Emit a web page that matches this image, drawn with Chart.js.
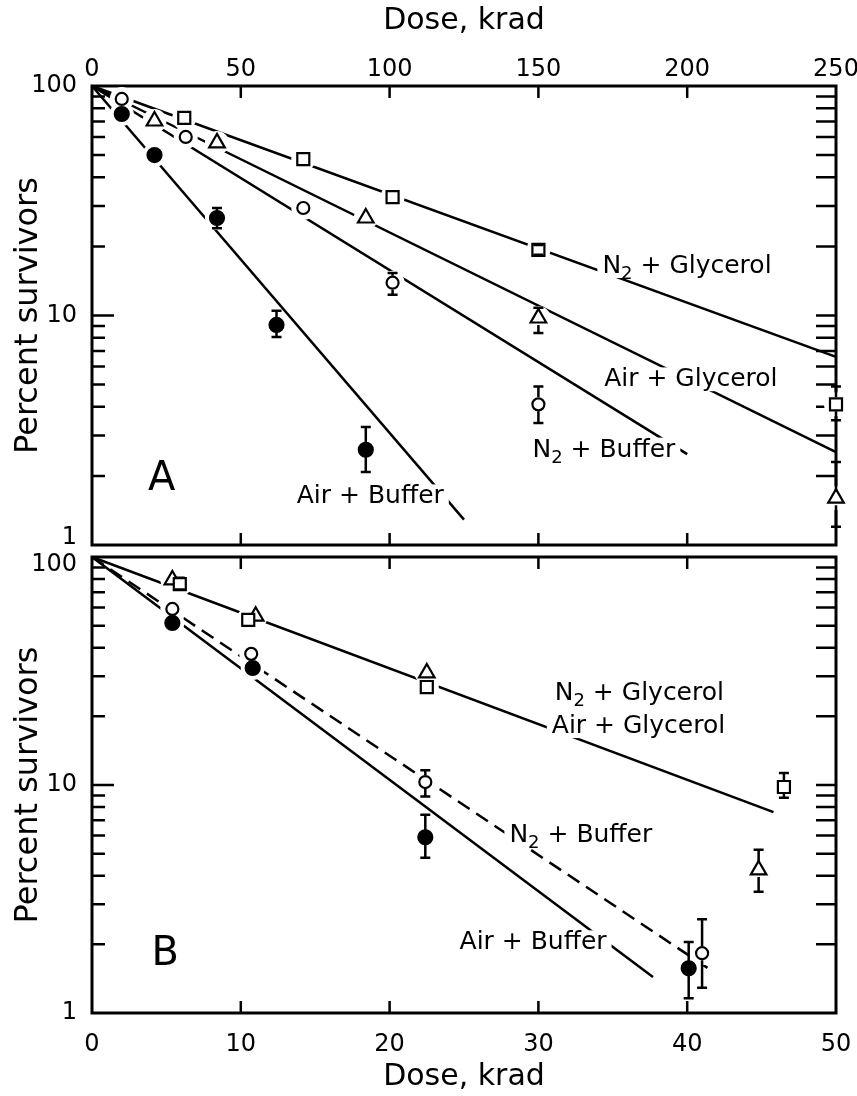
<!DOCTYPE html>
<html>
<head>
<meta charset="utf-8">
<script src="https://cdn.jsdelivr.net/npm/chart.js@4.4.1/dist/chart.umd.min.js"></script>
<style>
  body { margin: 0; background: #fff; }
  #wrap { position: relative; width: 857px; height: 1096px; overflow: hidden; background: #fff; }
  canvas { position: absolute; left: 0; }
</style>
</head>
<body>
<div id="wrap">
  <canvas id="chartA" width="890" height="600" style="top:0"></canvas>
  <canvas id="chartB" width="890" height="596" style="top:500px"></canvas>
</div>
<script>
const FONT = 'DejaVu Sans';

// ---- panel A: dose 0-250 krad ----
// squares, N2 + glycerol
const aSqDose = [31, 71, 101, 150, 250];
const aSqSurv = [72.6, 48, 32.8, 19.3, 4.1];
const aSqLow  = [null, null, null, 18.4, 3.5];
const aSqHigh = [null, null, null, 20.3, 4.9];
// triangles, air + glycerol
const aTriDose = [21, 42, 92, 150, 250];
const aTriSurv = [70.4, 56.5, 26.6, 9.75, 1.6];
const aTriLow  = [null, null, null, 8.4, 1.2];
const aTriHigh = [null, null, null, 10.8, 2.3];
// open circles, N2 + buffer
const aOpenDose = [10, 31.5, 71, 101, 150];
const aOpenSurv = [87.8, 60, 29.4, 13.9, 4.1];
const aOpenLow  = [null, null, null, 12.3, 3.4];
const aOpenHigh = [null, null, null, 15.3, 4.9];
// filled circles, air + buffer
const aFillDose = [10, 21, 42, 62, 92];
const aFillSurv = [75.5, 50, 26.6, 9.1, 2.6];
const aFillLow  = [null, null, 24, 8.05, 2.08];
const aFillHigh = [null, null, 29.4, 10.5, 3.27];
// fitted lines from (0, 100): N2+Gly, Air+Gly, N2+Buf, Air+Buf
const aFitEndDose = [250, 250, 200, 125];
const aFitEndSurv = [6.6, 2.54, 2.49, 1.29];

// ---- panel B: dose 0-50 krad ----
const bSqDose = [5.9, 10.5, 22.5, 46.5];
const bSqSurv = [76, 53, 26.9, 9.8];
const bSqLow  = [72, null, null, 8.8];
const bSqHigh = [81, null, null, 11.3];

const bTriDose = [5.4, 11, 22.5, 44.8];
const bTriSurv = [79.3, 55, 31, 4.24];
const bTriLow  = [null, null, null, 3.4];
const bTriHigh = [null, null, null, 5.2];

const bOpenDose = [5.4, 10.7, 22.4, 41];
const bOpenSurv = [59.2, 37.6, 10.3, 1.83];
const bOpenLow  = [null, null, 8.9, 1.29];
const bOpenHigh = [null, null, 11.6, 2.58];

const bFillDose = [5.4, 10.8, 22.4, 40.1];
const bFillSurv = [51.4, 32.6, 5.9, 1.57];
const bFillLow  = [null, null, 4.8, 1.16];
const bFillHigh = [null, null, 7.4, 2.05];
// fitted lines: glycerol (both), N2+Buf (dashed), Air+Buf
const bFitEndDose = [45.8, 41.8, 37.7];
const bFitEndSurv = [7.6, 1.51, 1.44];

// axis ticks
const yLabelTicks = [1, 10, 100];
const yMinorTicks = [2, 3, 4, 5, 6, 7, 8, 9, 20, 30, 40, 50, 60, 70, 80, 90];

// curve labels (anchored in data units, text starts at dose)
const aLabelText = ['N₂ + Glycerol', 'Air + Glycerol', 'N₂ + Buffer', 'Air + Buffer'];
const aLabelDose = [171.5, 172.1, 148, 68.8];
const aLabelSurv = [16.3, 5.24, 2.59, 1.62];
const bLabelText = ['N₂ + Glycerol', 'Air + Glycerol', 'N₂ + Buffer', 'Air + Buffer'];
const bLabelDose = [31.1, 30.9, 28.05, 24.7];
const bLabelSurv = [25.3, 18.0, 6.0, 2.03];

function pts(dose, surv) {
  return dose.map((d, i) => ({ x: d, y: surv[i] }));
}

function markerSet(dose, surv, style, radius, fill) {
  return {
    data: pts(dose, surv), showLine: false, clip: false, order: 1,
    pointStyle: style, pointRadius: radius, pointBackgroundColor: fill,
    pointBorderColor: '#000', pointBorderWidth: 2.2
  };
}

// white disc behind each marker so the lines break around it
function haloSet(dose, surv) {
  return {
    data: pts(dose, surv), showLine: false, clip: false, order: 5,
    pointStyle: 'circle', pointRadius: 12, pointBackgroundColor: '#fff', pointBorderWidth: 0
  };
}

function fitSet(endDose, endSurv, dash) {
  return {
    data: [{ x: 0, y: 100 }, { x: endDose, y: endSurv }],
    showLine: true, clip: false, order: 10, pointRadius: 0,
    borderColor: '#000', borderWidth: 2.5, borderDash: dash || []
  };
}

function drawLabel(ctx, text, px, py, size) {
  const segs = [];
  text.split('₂').forEach((p, i) => {
    if (i > 0) segs.push({ t: '2', sub: true });
    if (p) segs.push({ t: p, sub: false });
  });
  const main = size + 'px "' + FONT + '"';
  const small = Math.round(size * 0.72) + 'px "' + FONT + '"';
  let w = 0;
  segs.forEach(s => { ctx.font = s.sub ? small : main; s.w = ctx.measureText(s.t).width; w += s.w; });
  ctx.fillStyle = '#fff';
  ctx.fillRect(px - 5, py - size * 0.5, w + 10, size * 0.95);
  ctx.fillStyle = '#000';
  ctx.textBaseline = 'middle';
  ctx.textAlign = 'left';
  let cx = px;
  segs.forEach(s => {
    ctx.font = s.sub ? small : main;
    ctx.fillText(s.t, cx, s.sub ? py + size * 0.32 : py);
    cx += s.w;
  });
}

const panelDecor = {
  id: 'panelDecor',
  beforeDatasetsDraw(chart) {
    const { ctx, chartArea: ca, scales: { x: xs, y: ys } } = chart;
    ctx.save();
    ctx.strokeStyle = '#000';
    ctx.lineWidth = 2.5;
    ctx.beginPath();
    yMinorTicks.concat([10]).forEach(v => {
      const py = ys.getPixelForValue(v);
      ctx.moveTo(ca.left, py); ctx.lineTo(ca.left + (v === 10 ? 22 : 13), py);
      ctx.moveTo(ca.right, py); ctx.lineTo(ca.right - 20, py);
    });
    xs.ticks.forEach(t => {
      if (t.value <= xs.min || t.value >= xs.max) return;
      const px = xs.getPixelForValue(t.value);
      ctx.moveTo(px, ca.top); ctx.lineTo(px, ca.top + 12);
      ctx.moveTo(px, ca.bottom); ctx.lineTo(px, ca.bottom - 12);
    });
    ctx.stroke();
    ctx.lineWidth = 3;
    ctx.strokeRect(ca.left, ca.top, ca.right - ca.left, ca.bottom - ca.top);
    ctx.restore();
  },
  afterDatasetsDraw(chart, args, opts) {
    const { ctx, scales: { x: xs, y: ys } } = chart;
    ctx.save();
    ctx.strokeStyle = '#000';
    ctx.lineWidth = 2.5;
    opts.errorBars.forEach(e => {
      e.dose.forEach((d, i) => {
        if (e.low[i] == null) return;
        const px = xs.getPixelForValue(d);
        const pm = ys.getPixelForValue(e.surv[i]);
        const pl = ys.getPixelForValue(e.low[i]);
        const ph = ys.getPixelForValue(e.high[i]);
        ctx.beginPath();
        if (ph < pm - e.gap) { ctx.moveTo(px, ph); ctx.lineTo(px, pm - e.gap); }
        if (pl > pm + e.gap) { ctx.moveTo(px, pm + e.gap); ctx.lineTo(px, pl); }
        ctx.moveTo(px - 5, ph); ctx.lineTo(px + 5, ph);
        ctx.moveTo(px - 5, pl); ctx.lineTo(px + 5, pl);
        ctx.stroke();
      });
    });
    opts.labelText.forEach((t, i) => {
      drawLabel(ctx, t, xs.getPixelForValue(opts.labelDose[i]), ys.getPixelForValue(opts.labelSurv[i]), 25);
    });
    ctx.fillStyle = '#000';
    ctx.font = '40px "' + FONT + '"';
    ctx.textAlign = 'left';
    ctx.textBaseline = 'middle';
    ctx.fillText(opts.letter, xs.getPixelForValue(opts.letterAt[0]), ys.getPixelForValue(opts.letterAt[1]));
    ctx.restore();
  }
};

function panelDatasets(sq, tri, open, fill, fits) {
  return [
    ...fits,
    haloSet(sq[0], sq[1]), haloSet(tri[0], tri[1]), haloSet(open[0], open[1]), haloSet(fill[0], fill[1]),
    markerSet(sq[0], sq[1], 'rect', 8.5, '#fff'),
    markerSet(tri[0], tri[1], 'triangle', 9, '#fff'),
    markerSet(open[0], open[1], 'circle', 6, '#fff'),
    markerSet(fill[0], fill[1], 'circle', 7, '#000')
  ];
}

function yAxis(labelFn) {
  return {
    type: 'logarithmic', min: 1, max: 100,
    afterBuildTicks: s => { s.ticks = yLabelTicks.map(v => ({ value: v })); },
    ticks: { color: '#000', padding: 15, autoSkip: false,
      font: { family: FONT, size: 24, lineHeight: '15px' }, callback: labelFn },
    grid: { display: false, drawTicks: false }, border: { display: false },
    title: { display: true, text: 'Percent survivors', color: '#000',
      font: { family: FONT, size: 32 }, padding: { top: 9, bottom: 0 } },
    afterFit: s => { s.width = 92; }
  };
}

// canvases are 890 wide inside an 857 wide page, so right padding 54 puts the frame at x = 836
new Chart(document.getElementById('chartA'), {
  type: 'scatter',
  data: {
    datasets: panelDatasets(
      [aSqDose, aSqSurv], [aTriDose, aTriSurv], [aOpenDose, aOpenSurv], [aFillDose, aFillSurv],
      aFitEndDose.map((d, i) => fitSet(d, aFitEndSurv[i]))
    )
  },
  options: {
    responsive: false, animation: false, events: [],
    layout: { autoPadding: false, padding: { left: 0, right: 54, top: 0, bottom: 55 } },
    plugins: {
      legend: { display: false }, tooltip: { enabled: false },
      panelDecor: {
        errorBars: [
          { dose: aSqDose, surv: aSqSurv, low: aSqLow, high: aSqHigh, gap: 7 },
          { dose: aTriDose, surv: aTriSurv, low: aTriLow, high: aTriHigh, gap: 7 },
          { dose: aOpenDose, surv: aOpenSurv, low: aOpenLow, high: aOpenHigh, gap: 7 },
          { dose: aFillDose, surv: aFillSurv, low: aFillLow, high: aFillHigh, gap: 6 }
        ],
        labelText: aLabelText, labelDose: aLabelDose, labelSurv: aLabelSurv,
        letter: 'A', letterAt: [18.8, 1.92]
      }
    },
    scales: {
      x: {
        type: 'linear', position: 'top', min: 0, max: 250,
        ticks: { stepSize: 50, color: '#000', padding: 2, maxRotation: 0, font: { family: FONT, size: 24 } },
        grid: { display: false, drawTicks: false }, border: { display: false },
        title: { display: true, text: 'Dose, krad', color: '#000',
          font: { family: FONT, size: 30 }, padding: { top: 3, bottom: 0 } },
        afterFit: s => { s.height = 86; }
      },
      y: yAxis(v => (v === 1 ? ['1', ''] : String(v)))
    }
  },
  plugins: [panelDecor]
});

new Chart(document.getElementById('chartB'), {
  type: 'scatter',
  data: {
    datasets: panelDatasets(
      [bSqDose, bSqSurv], [bTriDose, bTriSurv], [bOpenDose, bOpenSurv], [bFillDose, bFillSurv],
      [fitSet(bFitEndDose[0], bFitEndSurv[0]),
       fitSet(bFitEndDose[1], bFitEndSurv[1], [14, 8]),
       fitSet(bFitEndDose[2], bFitEndSurv[2])]
    )
  },
  options: {
    responsive: false, animation: false, events: [],
    layout: { autoPadding: false, padding: { left: 0, right: 54, top: 57, bottom: 0 } },
    plugins: {
      legend: { display: false }, tooltip: { enabled: false },
      panelDecor: {
        errorBars: [
          { dose: bSqDose, surv: bSqSurv, low: bSqLow, high: bSqHigh, gap: 7 },
          { dose: bTriDose, surv: bTriSurv, low: bTriLow, high: bTriHigh, gap: 7 },
          { dose: bOpenDose, surv: bOpenSurv, low: bOpenLow, high: bOpenHigh, gap: 7 },
          { dose: bFillDose, surv: bFillSurv, low: bFillLow, high: bFillHigh, gap: 6 }
        ],
        labelText: bLabelText, labelDose: bLabelDose, labelSurv: bLabelSurv,
        letter: 'B', letterAt: [4.0, 1.8]
      }
    },
    scales: {
      x: {
        type: 'linear', position: 'bottom', min: 0, max: 50,
        ticks: { stepSize: 10, color: '#000', padding: 17, maxRotation: 0, font: { family: FONT, size: 24 } },
        grid: { display: false, drawTicks: false }, border: { display: false },
        title: { display: true, text: 'Dose, krad', color: '#000',
          font: { family: FONT, size: 30 }, padding: { top: 0, bottom: 1 } },
        afterFit: s => { s.height = 83; }
      },
      y: yAxis(v => (v === 100 ? ['', '100'] : String(v)))
    }
  },
  plugins: [panelDecor]
});
</script>
</body>
</html>
